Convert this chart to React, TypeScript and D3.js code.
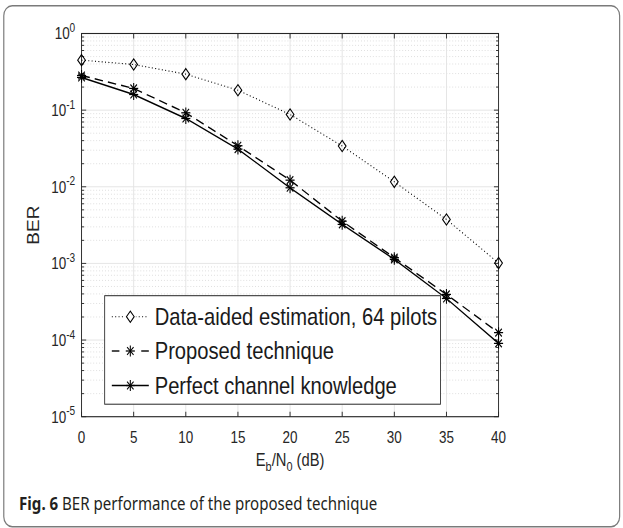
import React from "react";
import * as d3 from "d3";

const snr = [0, 5, 10, 15, 20, 25, 30, 35, 40];
const dataAided = [0.449, 0.394, 0.295, 0.182, 0.0878, 0.034, 0.0116, 0.00375, 0.00101];
const proposed = [0.283, 0.192, 0.0923, 0.0343, 0.0122, 0.00356, 0.00119, 0.000394, 0.000125];
const perfect = [0.267, 0.16, 0.0778, 0.031, 0.0097, 0.00323, 0.00113, 0.000349, 0.0000905];
const xTicks = [0, 5, 10, 15, 20, 25, 30, 35, 40];
const yExps = [0, -1, -2, -3, -4, -5];
const legendLabels = ["Data-aided estimation, 64 pilots", "Proposed technique", "Perfect channel knowledge"];
const captionBold = "Fig. 6";
const captionText = " BER performance of the proposed technique";

const W = 623, H = 528;
// logical drawing width, horizontally compressed to the page width
const LW = 741;
const SX = W / LW;
const L = 97, R = 593, T = 33.5, B = 416.7;
const AX = "#262626";
const FONT = "'Liberation Sans', Arial, Helvetica, sans-serif";

function Asterisk({ x, y, r = 5.4 }: { x: number; y: number; r?: number }) {
  const d = r * 0.72;
  return (
    <g stroke="#000" strokeWidth={1.25}>
      <line x1={x - r} y1={y} x2={x + r} y2={y} />
      <line x1={x} y1={y - r} x2={x} y2={y + r} />
      <line x1={x - d} y1={y - d} x2={x + d} y2={y + d} />
      <line x1={x - d} y1={y + d} x2={x + d} y2={y - d} />
    </g>
  );
}
function Diamond({ x, y }: { x: number; y: number }) {
  const w = 4.6, h = 5.6;
  return (
    <path d={`M${x},${y - h}L${x + w},${y}L${x},${y + h}L${x - w},${y}Z`} fill="none" stroke="#000" strokeWidth={1.2} />
  );
}

export default function App() {
  const x = d3.scaleLinear().domain([0, 40]).range([L, R]);
  const y = d3.scaleLog().domain([1e-5, 1]).range([B, T]);
  const line = (vals: number[]) =>
    d3.line<number>().x((_, i) => x(snr[i])).y((v) => y(v))(vals) || "";

  const minorY: number[] = [];
  for (let e = -5; e < 0; e++) for (let m = 2; m <= 9; m++) minorY.push(m * Math.pow(10, e));

  const legX = 124.5, legY = 295.7, legW = 399.5, legH = 108.5;
  const rows = [316.7, 351, 385.5];
  const sx1 = 133, sx2 = 177, mx = 155, tx = 184;

  return (
    <svg width={W} height={H} style={{ position: "absolute", left: 0, top: 0 }} xmlns="http://www.w3.org/2000/svg">
      <rect x={0} y={0} width={W} height={H} fill="#fff" />
      <g transform={`scale(${SX},1)`}>
        <rect x={4.5} y={5.7} width={732.5} height={521} rx={10} fill="none" stroke="#7a7a7a" strokeWidth={1.4} />

        {/* grid */}
        <g>
          {minorY.map((v, i) => (
            <line key={"my" + i} x1={L} x2={R} y1={y(v)} y2={y(v)} stroke="#cdcdcd" strokeWidth={0.8} strokeDasharray="1,2.5" />
          ))}
          {xTicks.map((t) => (
            <line key={"gx" + t} x1={x(t)} x2={x(t)} y1={T} y2={B} stroke="#e3e3e3" strokeWidth={1.1} />
          ))}
          {yExps.map((e) => (
            <line key={"gy" + e} x1={L} x2={R} y1={y(Math.pow(10, e))} y2={y(Math.pow(10, e))} stroke="#e3e3e3" strokeWidth={1} />
          ))}
        </g>

        {/* axes box */}
        <rect x={L} y={T} width={R - L} height={B - T} fill="none" stroke={AX} strokeWidth={1.1} />
        {xTicks.map((t) => (
          <g key={"tx" + t} stroke={AX} strokeWidth={1.1}>
            <line x1={x(t)} x2={x(t)} y1={B} y2={B - 5} />
            <line x1={x(t)} x2={x(t)} y1={T} y2={T + 5} />
          </g>
        ))}
        {yExps.map((e) => (
          <g key={"ty" + e} stroke={AX} strokeWidth={1}>
            <line x1={L} x2={L + 5.5} y1={y(Math.pow(10, e))} y2={y(Math.pow(10, e))} />
            <line x1={R} x2={R - 5.5} y1={y(Math.pow(10, e))} y2={y(Math.pow(10, e))} />
          </g>
        ))}
        {minorY.map((v, i) => (
          <g key={"mt" + i} stroke={AX} strokeWidth={1}>
            <line x1={L} x2={L + 3} y1={y(v)} y2={y(v)} />
            <line x1={R} x2={R - 3} y1={y(v)} y2={y(v)} />
          </g>
        ))}

        {/* tick labels */}
        {xTicks.map((t) => (
          <text key={"xl" + t} x={x(t)} y={442.7} textAnchor="middle" fontFamily={FONT} fontSize={16} fill={AX}>
            {t}
          </text>
        ))}
        {yExps.map((e) => (
          <text key={"yl" + e} x={89.5} y={y(Math.pow(10, e)) + 6} textAnchor="end" fontFamily={FONT} fontSize={16} fill={AX}>
            10
            <tspan dy={-7.5} fontSize={12}>{e}</tspan>
          </text>
        ))}
        <text x={0} y={0} transform={`translate(46,${(T + B) / 2}) rotate(-90)`} textAnchor="middle" fontFamily={FONT} fontSize={19} fill={AX}>
          BER
        </text>
        <text x={(L + R) / 2} y={466} textAnchor="middle" fontFamily={FONT} fontSize={17.5} fill={AX}>
          E<tspan dy={5} fontSize={13}>b</tspan>
          <tspan dy={-5}>/N</tspan>
          <tspan dy={5} fontSize={13}>0</tspan>
          <tspan dy={-5}> (dB)</tspan>
        </text>

        {/* series */}
        <path d={line(dataAided)} fill="none" stroke="#000" strokeWidth={1.1} strokeDasharray="1.2,2.8" />
        <path d={line(proposed)} fill="none" stroke="#000" strokeWidth={1.4} strokeDasharray="10,6" />
        <path d={line(perfect)} fill="none" stroke="#000" strokeWidth={1.4} />
        {dataAided.map((v, i) => <Diamond key={"d" + i} x={x(snr[i])} y={y(v)} />)}
        {proposed.map((v, i) => <Asterisk key={"p" + i} x={x(snr[i])} y={y(v)} />)}
        {perfect.map((v, i) => <Asterisk key={"q" + i} x={x(snr[i])} y={y(v)} />)}

        {/* legend */}
        <rect x={legX} y={legY} width={legW} height={legH} fill="#fff" stroke={AX} strokeWidth={1} />
        <line x1={sx1} x2={sx2} y1={rows[0]} y2={rows[0]} stroke="#000" strokeWidth={1.1} strokeDasharray="1.2,2.8" />
        <rect x={mx - 6.5} y={rows[0] - 7} width={13} height={14} fill="#fff" />
        <Diamond x={mx} y={rows[0]} />
        <line x1={sx1} x2={sx1 + 9} y1={rows[1]} y2={rows[1]} stroke="#000" strokeWidth={1.4} />
        <line x1={sx2 - 9} x2={sx2} y1={rows[1]} y2={rows[1]} stroke="#000" strokeWidth={1.4} />
        <Asterisk x={mx} y={rows[1]} />
        <line x1={sx1} x2={sx2} y1={rows[2]} y2={rows[2]} stroke="#000" strokeWidth={1.4} />
        <Asterisk x={mx} y={rows[2]} />
        {legendLabels.map((s, i) => (
          <text key={"lg" + i} x={tx} y={rows[i] + 8.5} fontFamily={FONT} fontSize={24} fill="#1a1a1a">
            {s}
          </text>
        ))}

        {/* caption */}
        <text x={22.7} y={510} fontFamily="'Noto Sans', 'Open Sans', sans-serif" fontSize={18.6} fill="#231f20" textLength={426} lengthAdjust="spacingAndGlyphs">
          <tspan fontWeight="bold">{captionBold}</tspan>
          <tspan>{captionText}</tspan>
        </text>
      </g>
    </svg>
  );
}
